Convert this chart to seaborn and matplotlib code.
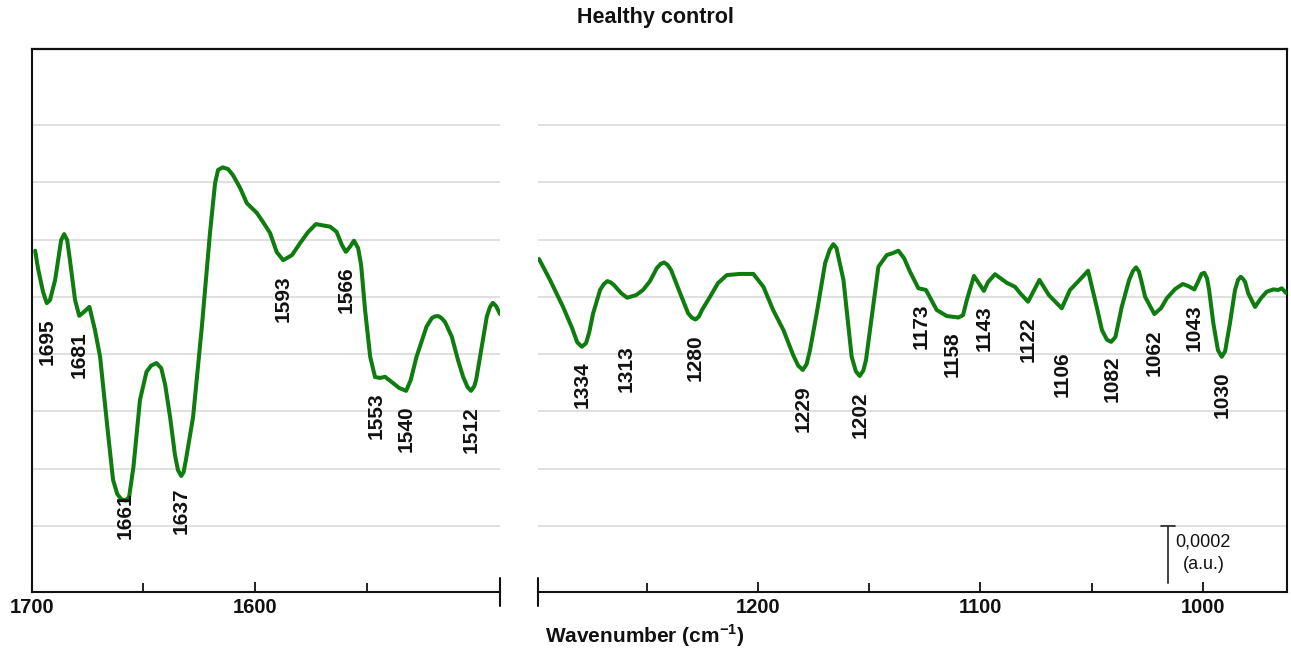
import numpy as np
import pandas as pd
import matplotlib
matplotlib.use("Agg")
import matplotlib.pyplot as plt
from matplotlib import transforms
from matplotlib.ticker import FixedLocator
import seaborn as sns

# ---------------------------------------------------------------------------
# Spectrum data (wavenumber in cm-1, absorbance in units of 1e-4 a.u.)
# ---------------------------------------------------------------------------
amide_wn = [1700.0, 1698.8, 1696.6, 1695.0, 1693.6, 1691.4, 1688.8, 1687.5, 1686.2, 1685.0,
            1682.8, 1681.0, 1679.3, 1676.6, 1674.2, 1672.0, 1668.6, 1666.4, 1664.6, 1662.9,
            1661.0, 1659.5, 1657.6, 1654.8, 1652.0, 1650.0, 1647.7, 1645.6, 1643.9, 1641.8,
            1639.7, 1638.4, 1637.0, 1636.0, 1635.0, 1631.9, 1628.1, 1624.6, 1622.4, 1621.1,
            1619.1, 1616.8, 1614.7, 1611.6, 1608.7, 1604.4, 1601.7, 1598.7, 1595.8, 1593.0,
            1589.2, 1585.7, 1582.3, 1578.9, 1576.3, 1572.8, 1570.0, 1567.7, 1566.0, 1564.2,
            1562.5, 1560.7, 1559.4, 1557.7, 1555.5, 1553.4, 1551.2, 1549.1, 1545.6, 1543.0,
            1540.0, 1538.0, 1535.5, 1531.2, 1528.9, 1527.5, 1526.1, 1524.6, 1523.2, 1520.3,
            1517.6, 1515.4, 1513.5, 1512.0, 1510.6, 1509.8, 1508.1, 1505.2, 1503.8, 1502.6,
            1501.2, 1499.5]
amide_abs = [9.61, 9.00, 8.17, 7.78, 7.89, 8.59, 9.98, 10.19, 9.98, 9.28,
             7.89, 7.34, 7.45, 7.65, 6.84, 5.91, 3.25, 1.61, 1.12, 0.94,
             0.89, 1.01, 2.07, 4.40, 5.38, 5.60, 5.69, 5.51, 4.92, 3.80,
             2.48, 1.95, 1.75, 1.88, 2.30, 3.80, 6.96, 10.23, 11.97, 12.43,
             12.52, 12.46, 12.25, 11.80, 11.27, 10.93, 10.61, 10.23, 9.56, 9.28,
             9.46, 9.88, 10.26, 10.54, 10.50, 10.45, 10.27, 9.81, 9.57, 9.75,
             9.96, 9.70, 9.11, 7.54, 5.91, 5.20, 5.17, 5.21, 4.99, 4.82,
             4.72, 5.10, 5.91, 6.96, 7.26, 7.32, 7.33, 7.25, 7.12, 6.61,
             5.79, 5.21, 4.85, 4.72, 4.88, 5.10, 5.91, 7.31, 7.65, 7.79,
             7.68, 7.40]
amide_peaks = [1695, 1681, 1661, 1637, 1593, 1566, 1553, 1540, 1512]

finger_wn = [1354.3, 1349.1, 1342.9, 1338.6, 1336.2, 1334.0, 1332.0, 1330.5, 1328.6, 1325.3,
             1323.5, 1321.8, 1320.2, 1318.7, 1315.3, 1312.5, 1308.2, 1304.9, 1301.6, 1298.3,
             1296.5, 1294.9, 1293.3, 1291.6, 1287.3, 1283.5, 1281.8, 1280.0, 1278.4, 1276.9,
             1273.1, 1269.3, 1265.1, 1258.8, 1252.5, 1247.7, 1243.1, 1238.2, 1233.6, 1231.2,
             1229.0, 1227.2, 1225.6, 1222.4, 1218.4, 1216.2, 1214.5, 1213.0, 1212.3, 1209.7,
             1205.8, 1203.8, 1202.0, 1200.3, 1199.0, 1197.1, 1193.1, 1189.1, 1186.1, 1183.6,
             1180.9, 1178.1, 1174.1, 1170.5, 1165.4, 1160.6, 1155.1, 1152.9, 1151.1, 1147.7,
             1145.8, 1143.0, 1141.0, 1137.7, 1132.1, 1128.2, 1125.8, 1122.0, 1120.1, 1116.6,
             1112.1, 1106.0, 1102.1, 1098.3, 1093.5, 1089.4, 1086.9, 1084.5, 1082.5, 1080.5,
             1077.5, 1074.0, 1072.2, 1070.7, 1069.3, 1068.3, 1066.4, 1062.0, 1058.8, 1056.1,
             1052.2, 1048.5, 1046.0, 1043.0, 1041.3, 1039.6, 1038.3, 1037.0, 1036.0, 1034.0,
             1031.8, 1030.0, 1028.4, 1026.1, 1023.7, 1022.2, 1021.0, 1019.8, 1018.9, 1017.4,
             1014.2, 1011.3, 1008.6, 1005.5, 1003.1, 1001.5, 999.5]
finger_abs = [9.32, 8.59, 7.65, 6.91, 6.42, 6.26, 6.38, 6.75, 7.43, 8.24,
              8.45, 8.55, 8.50, 8.41, 8.13, 7.97, 8.06, 8.24, 8.55, 9.01,
              9.15, 9.20, 9.12, 8.94, 8.13, 7.43, 7.28, 7.21, 7.31, 7.54,
              8.00, 8.48, 8.76, 8.80, 8.80, 8.35, 7.54, 6.84, 5.97, 5.60,
              5.45, 5.65, 6.14, 7.43, 9.18, 9.65, 9.84, 9.70, 9.46, 8.59,
              5.91, 5.40, 5.24, 5.42, 5.79, 6.84, 9.05, 9.46, 9.53, 9.61,
              9.35, 8.88, 8.30, 8.24, 7.54, 7.33, 7.28, 7.36, 7.89, 8.73,
              8.52, 8.21, 8.52, 8.79, 8.49, 8.35, 8.13, 7.83, 8.10, 8.59,
              8.06, 7.60, 8.24, 8.53, 8.91, 7.65, 6.84, 6.50, 6.43, 6.60,
              7.65, 8.59, 8.90, 9.03, 8.88, 8.59, 8.00, 7.40, 7.61, 7.95,
              8.27, 8.45, 8.38, 8.26, 8.52, 8.80, 8.84, 8.65, 8.24, 7.08,
              6.14, 5.91, 6.10, 7.08, 8.24, 8.60, 8.70, 8.62, 8.52, 8.12,
              7.65, 7.96, 8.18, 8.26, 8.24, 8.30, 8.14]
finger_peaks = [1334, 1313, 1280, 1229, 1202, 1173, 1158, 1143, 1122, 1106,
                1082, 1062, 1043, 1030]

# printed wavenumber scale along the broken bottom axis
amide_major, amide_minor = [1700, 1600], [1650, 1550]
finger_major, finger_minor = [1200, 1100, 1000], [1250, 1150, 1050]

SCALE_BAR = 0.0002          # a.u.
GRID_LEVELS = np.arange(0, 0.00141, 0.0002)

assert len(amide_wn) == len(amide_abs)
assert len(finger_wn) == len(finger_abs)

# ---------------------------------------------------------------------------
# Style
# ---------------------------------------------------------------------------
sns.set_theme(style="white")
plt.rcParams["font.family"] = ["Liberation Sans", "DejaVu Sans"]
plt.rcParams["mathtext.fontset"] = "custom"
plt.rcParams["mathtext.rm"] = "Liberation Sans"
plt.rcParams["mathtext.bf"] = "Liberation Sans:bold"

GREEN = "#0e7c0e"
INK = "#111111"
GRID = "#dadada"

W, H = 1291, 649
fig = plt.figure(figsize=(W / 100, H / 100), dpi=100)


def box(x0, x1, top, bottom):
    return [x0 / W, 1 - bottom / H, (x1 - x0) / W, (bottom - top) / H]


YLIM = (-0.000230, 0.001665)

ax_l = fig.add_axes(box(31.7, 500, 49, 592))
ax_r = fig.add_axes(box(538, 1287, 49, 592))

# continuous top edge of the frame across the axis break
frame = fig.add_axes(box(31.7, 1287, 49, 592), zorder=5)
frame.patch.set_visible(False)
frame.set_xticks([])
frame.set_yticks([])
for side in ("left", "right", "bottom"):
    frame.spines[side].set_visible(False)
frame.spines["top"].set_linewidth(1.6)
frame.spines["top"].set_color(INK)


def linear_map(span, scale):
    w0, w1 = span
    s0, s1 = scale
    k = (s1 - s0) / (w1 - w0)

    def fwd(w):
        return s0 + (np.asarray(w) - w0) * k

    def inv(s):
        return w0 + (np.asarray(s) - s0) / k

    return fwd, inv


def draw_panel(ax, wn, ab, peaks, span, scale, major, minor, drops):
    df = pd.DataFrame({"wavenumber": wn, "absorbance": np.asarray(ab) * 1e-4})
    sns.lineplot(data=df, x="wavenumber", y="absorbance", ax=ax, color=GREEN,
                 linewidth=2.9, estimator=None, sort=True, zorder=3,
                 solid_joinstyle="round", solid_capstyle="round")
    ax.set_xlim(span)
    ax.set_ylim(YLIM)
    ax.set_xlabel("")
    ax.set_ylabel("")
    ax.patch.set_alpha(0)

    ax.set_yticks(GRID_LEVELS)
    ax.tick_params(axis="both", left=False, labelleft=False,
                   bottom=False, labelbottom=False)
    ax.grid(axis="y", color=GRID, linewidth=1.2)
    ax.grid(axis="x", visible=False)
    ax.set_axisbelow(True)

    ax.spines["bottom"].set_visible(False)
    ax.spines["top"].set_visible(False)

    # printed wavenumber scale
    fwd, inv = linear_map(span, scale)
    sec = ax.secondary_xaxis("bottom", functions=(fwd, inv))
    sec.set_xticks(major, labels=[str(t) for t in major],
                   fontsize=14.5, fontweight="bold", color=INK)
    sec.xaxis.set_minor_locator(FixedLocator(minor))
    sec.tick_params(which="major", direction="in", length=7, width=1.3,
                    pad=4.5, color=INK)
    sec.tick_params(which="minor", direction="in", length=6.2, width=1.3,
                    color=INK)
    sec.spines["bottom"].set_linewidth(1.5)
    sec.spines["bottom"].set_color(INK)

    # peak annotations under the bands
    order = np.argsort(wn)
    xs = np.asarray(wn)[order]
    ys = np.asarray(ab)[order] * 1e-4
    for p in peaks:
        y = np.interp(p, xs, ys)
        drop = drops.get(p, 15)
        ax.annotate(str(p), xy=(p, y), xytext=(0, -drop * 0.72),
                    textcoords="offset points", rotation=90,
                    ha="center", va="top", fontsize=15, fontweight="bold",
                    color=INK, zorder=4)


draw_panel(ax_l, amide_wn, amide_abs, amide_peaks,
           span=(1701.5, 1499.5), scale=(1700, 1490.3),
           major=amide_major, minor=amide_minor,
           drops={1661: -8, 1637: 12})
draw_panel(ax_r, finger_wn, finger_abs, finger_peaks,
           span=(1354.8, 999.0), scale=(1298.9, 962.1),
           major=finger_major, minor=finger_minor,
           drops={1313: 48, 1106: 43})

# spines around the break
ax_l.spines["right"].set_visible(False)
ax_l.spines["left"].set_linewidth(1.5)
ax_l.spines["left"].set_color(INK)
ax_r.spines["left"].set_visible(False)
ax_r.spines["right"].set_linewidth(1.5)
ax_r.spines["right"].set_color(INK)

# break marks at the ends of the interrupted axis
ax_l.plot([1, 1], [-0.026, 0.026], transform=ax_l.transAxes, color=INK,
          linewidth=1.5, clip_on=False)
ax_r.plot([0, 0], [-0.026, 0.026], transform=ax_r.transAxes, color=INK,
          linewidth=1.5, clip_on=False)

# intensity scale bar
bar_tr = transforms.blended_transform_factory(ax_r.transAxes, ax_r.transData)
bx = 0.8407
ax_r.plot([bx, bx], [0, -SCALE_BAR], transform=bar_tr, color="#333333",
          linewidth=1.3, clip_on=False)
ax_r.plot([bx - 0.0095, bx + 0.0095], [0, 0], transform=bar_tr,
          color="#333333", linewidth=1.3, clip_on=False)
ax_r.text(0.8514, -0.0000956, "0,0002\n(a.u.)", transform=bar_tr,
          ha="left", va="center", multialignment="center",
          fontsize=13, linespacing=1.4, color=INK)

fig.text(655 / W, 1 - 18 / H, "Healthy control", ha="center", va="center",
         fontsize=15.5, fontweight="bold", color=INK)
fig.text(545 / W, 1 - 636 / H, r"Wavenumber (cm$^{\mathbf{-1}}$)",
         ha="left", va="center", fontsize=15, fontweight="bold", color=INK)

fig.savefig("out.png", dpi=100)
